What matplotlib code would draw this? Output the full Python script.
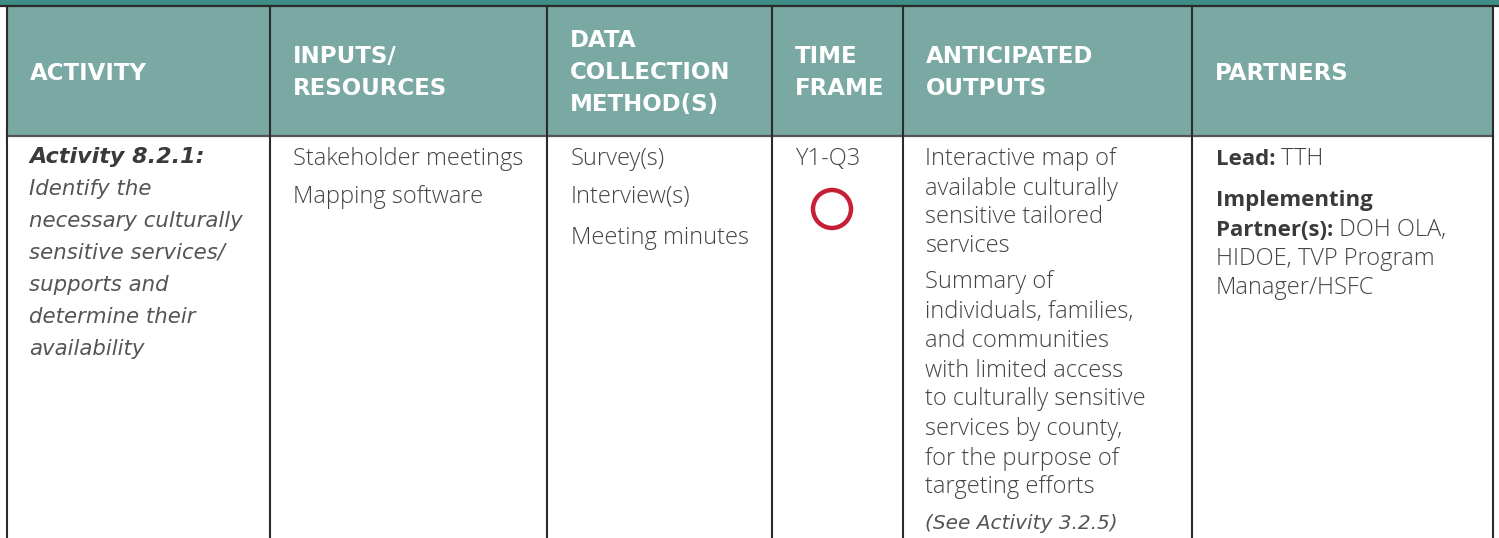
import matplotlib
matplotlib.use("Agg")
import matplotlib.pyplot as plt
from matplotlib.patches import Rectangle, Circle

# ---------------- data ----------------
headers = [["ACTIVITY"], ["INPUTS/", "RESOURCES"], ["DATA", "COLLECTION", "METHOD(S)"],
           ["TIME", "FRAME"], ["ANTICIPATED", "OUTPUTS"], ["PARTNERS"]]
activity_title = "Activity 8.2.1:"
activity_lines = ["Identify the", "necessary culturally", "sensitive services/",
                  "supports and", "determine their", "availability"]
inputs = ["Stakeholder meetings", "Mapping software"]
methods = ["Survey(s)", "Interview(s)", "Meeting minutes"]
time_frame = "Y1-Q3"
outputs_a = ["Interactive map of", "available culturally", "sensitive tailored", "services"]
outputs_b = ["Summary of", "individuals, families,", "and communities", "with limited access",
             "to culturally sensitive", "services by county,", "for the purpose of",
             "targeting efforts"]
outputs_note = "(See Activity 3.2.5)"
lead_label, lead_value = "Lead:", " TTH"
impl_label1, impl_label2 = "Implementing", "Partner(s):"
impl_value = [" DOH OLA,", "HIDOE, TVP Program", "Manager/HSFC"]

# ---------------- layout ----------------
W, H = 1499, 538
col_edges = [7, 270, 547, 772, 903, 1192, 1493]
header_top, header_bot = 6, 136
HEAD_BG = "#7aa8a3"
TOP_BAND = "#3f8d86"
LINE = "#2b2b2b"
TXT = "#444444"
TXT_B = "#3a3a3a"
RED = "#c61f36"
BODY_FONT = ["Open Sans", "DejaVu Sans"]
ITAL_FONT = ["DejaVu Sans"]
HEAD_FONT = ["DejaVu Sans"]
BS = 17
IS = 15.3
HS = 16.5

fig = plt.figure(figsize=(W / 100, H / 100), dpi=100)
ax = fig.add_axes([0, 0, 1, 1])
ax.set_xlim(0, W)
ax.set_ylim(H, 0)
ax.axis("off")

# top band and header background
ax.add_patch(Rectangle((0, 0), W, header_top, color=TOP_BAND, lw=0))
ax.add_patch(Rectangle((col_edges[0], header_top), col_edges[-1] - col_edges[0],
                       header_bot - header_top, color=HEAD_BG, lw=0))
# lines
ax.plot([0, W], [header_top, header_top], color=LINE, lw=1.6)
ax.plot([col_edges[0], col_edges[-1]], [header_bot, header_bot], color="#555555", lw=1.6)
for x in col_edges:
    ax.plot([x, x], [header_top, H], color=LINE, lw=1.5)

# header text
head_base = {1: [80], 2: [63, 95], 3: [47, 79, 111]}
for i, lines in enumerate(headers):
    x = col_edges[i] + 23
    for ln, yb in zip(lines, head_base[len(lines)]):
        ax.text(x, yb, ln, color="white", fontsize=HS, fontweight="bold",
                family=HEAD_FONT, va="baseline", ha="left")

def body(x, y, s, **kw):
    kw.setdefault("color", TXT)
    kw.setdefault("fontsize", BS)
    kw.setdefault("family", BODY_FONT)
    kw.setdefault("fontweight", "light")
    return ax.text(x, y, s, va="baseline", ha="left", **kw)

# activity column
xa = col_edges[0] + 22
body(xa, 163, activity_title, style="italic", fontweight="bold", color=TXT_B,
     family=ITAL_FONT, fontsize=IS + 0.7)
for ln, yb in zip(activity_lines, [195, 227, 259, 291, 323, 355]):
    body(xa, yb, ln, style="italic", family=ITAL_FONT, fontsize=IS, fontweight="normal",
         color="#555555")

# inputs
xi = col_edges[1] + 23
for ln, yb in zip(inputs, [165, 203]):
    body(xi, yb, ln)

# methods
xm = col_edges[2] + 24
for ln, yb in zip(methods, [165, 203, 244]):
    body(xm, yb, ln)

# time frame
xt = col_edges[3] + 23
body(xt, 165, time_frame)
ax.add_patch(Circle((832, 209), 19, fill=False, ec=RED, lw=3.2))

# outputs
xo = col_edges[4] + 22
for ln, yb in zip(outputs_a, [165, 195, 223, 252]):
    body(xo, yb, ln)
for ln, yb in zip(outputs_b, [288, 318, 347, 377, 405, 435, 465, 493]):
    body(xo, yb, ln)
body(xo, 529, outputs_note, style="italic", family=ITAL_FONT, fontsize=IS - 0.8,
     fontweight="normal", color="#555555")

# partners
xp = col_edges[5] + 24
fig.canvas.draw()
r = fig.canvas.get_renderer()
inv = ax.transData.inverted()

def mixed(x, y, bold, normal):
    t = body(x, y, bold, fontweight="bold", color=TXT_B, fontsize=16)
    bb = t.get_window_extent(renderer=r)
    x1 = inv.transform((bb.x1, bb.y0))[0]
    body(x1, y, normal)

mixed(xp, 165, lead_label, lead_value)
body(xp, 206, impl_label1, fontweight="bold", color=TXT_B, fontsize=16)
mixed(xp, 236, impl_label2, impl_value[0])
body(xp, 265, impl_value[1])
body(xp, 294, impl_value[2])

fig.savefig("out.png", dpi=100, facecolor="white")
